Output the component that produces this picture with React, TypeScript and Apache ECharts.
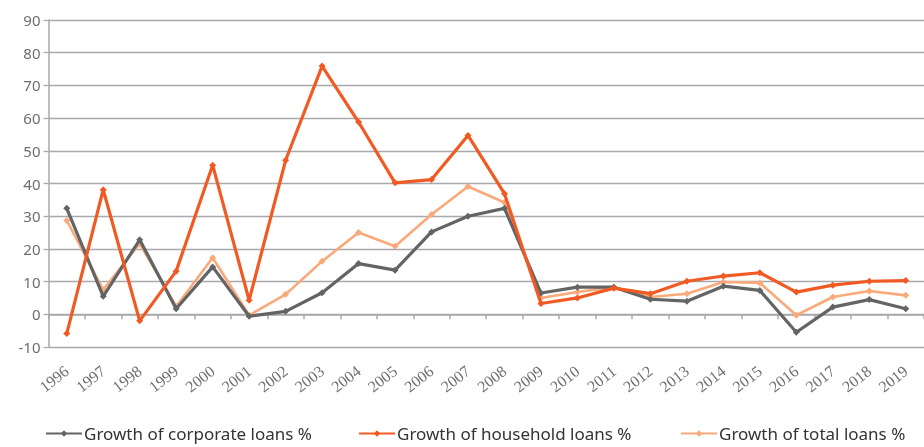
import React, { useEffect, useRef } from "react";
import * as echarts from "echarts";

const years = ["1996","1997","1998","1999","2000","2001","2002","2003","2004","2005","2006","2007","2008","2009","2010","2011","2012","2013","2014","2015","2016","2017","2018","2019"];
const corporate = [32.4, 5.5, 22.8, 1.7, 14.5, -0.6, 0.9, 6.6, 15.5, 13.5, 25.2, 30.0, 32.4, 6.5, 8.3, 8.3, 4.6, 4.0, 8.6, 7.3, -5.5, 2.2, 4.5, 1.7];
const household = [-5.9, 38.1, -2.0, 13.2, 45.6, 4.3, 47.1, 75.9, 58.8, 40.2, 41.2, 54.7, 36.9, 3.3, 5.0, 8.0, 6.3, 10.1, 11.7, 12.7, 6.8, 8.9, 10.1, 10.3];
const total = [28.7, 7.5, 21.6, 2.4, 17.3, -0.3, 6.1, 16.2, 25.0, 20.8, 30.5, 39.1, 34.2, 5.0, 6.8, 8.3, 5.3, 6.3, 9.9, 9.6, -0.3, 5.3, 7.1, 5.8];
const seriesNames = ["Growth of corporate loans %", "Growth of household loans %", "Growth of total loans %"];
const colors = ["#636466", "#f15a22", "#f9a97a"];

export default function App() {
  const ref = useRef<HTMLDivElement>(null);
  useEffect(() => {
    if (!ref.current) return;
    const chart = echarts.init(ref.current, undefined, { renderer: "svg" });
    const gray = "#a7a9ac";
    const textColor = "#6d6e71";
    const datas = [corporate, household, total];
    const widths = [3.2, 3.2, 2.6];
    const legendLefts = [45, 358, 680];
    chart.setOption({
      animation: false,
      grid: { left: 48.5, right: -11.5, top: 20, bottom: 100 },
      legend: seriesNames.map((n, i) => ({
        data: [n],
        left: legendLefts[i],
        top: 425,
        padding: 0,
        itemWidth: 36,
        itemHeight: 8,
        itemGap: 4,
        textStyle: { fontFamily: "Noto Sans", fontSize: 17, color: "#333", padding: [0, 0, 0, -3] },
      })),
      xAxis: [
        {
          type: "category",
          data: years,
          boundaryGap: true,
          axisLine: { onZero: true, lineStyle: { color: gray, width: 1.5 } },
          axisTick: { show: true, length: 5, lineStyle: { color: gray, width: 1.5 } },
          axisLabel: { show: false },
          splitLine: { show: false },
        },
        {
          type: "category",
          data: years,
          position: "bottom",
          boundaryGap: true,
          axisLine: { show: false, onZero: false },
          axisTick: { show: false },
          axisLabel: {
            interval: 0,
            rotate: 38,
            margin: 22,
            fontFamily: "Liberation Serif",
            fontSize: 16,
            color: textColor,
          },
          splitLine: { show: false },
        },
      ],
      yAxis: {
        type: "value",
        min: -10,
        max: 90,
        interval: 10,
        axisLine: { show: true, lineStyle: { color: gray, width: 1.5 } },
        axisTick: { show: true, length: 5, lineStyle: { color: gray, width: 1.3 } },
        axisLabel: { fontFamily: "Noto Sans", fontSize: 15, color: textColor, margin: 8 },
        splitLine: { show: true, lineStyle: { color: gray, width: 1.3 } },
      },
      series: seriesNames.map((n, i) => ({
        name: n,
        type: "line",
        xAxisIndex: 0,
        data: datas[i],
        symbol: "diamond",
        symbolSize: 7,
        lineStyle: { color: colors[i], width: widths[i] },
        itemStyle: { color: colors[i] },
        z: i === 1 ? 3 : i === 0 ? 2 : 1,
      })),
    });
    return () => chart.dispose();
  }, []);
  return <div ref={ref} style={{ position: "fixed", left: 0, top: 0, width: 924, height: 447 }} />;
}
